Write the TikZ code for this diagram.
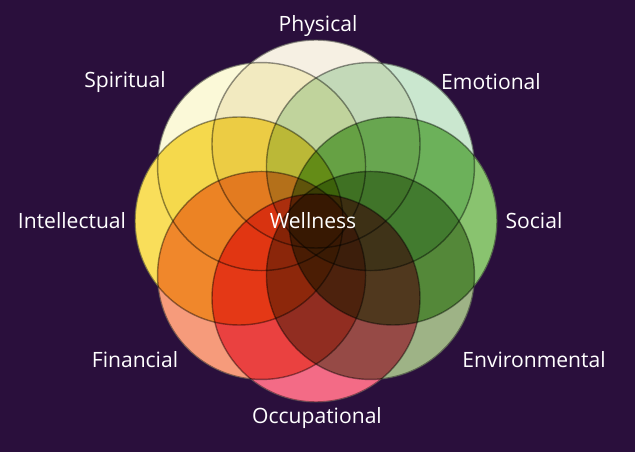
\documentclass[tikz,border=0pt]{standalone}
\usepackage{fontspec}
\setmainfont{Open Sans}
\definecolor{bgpurple}{HTML}{2A0F3C}
\definecolor{cPhys}{HTML}{F3ECDA}
\definecolor{cEmo}{HTML}{B9E0C0}
\definecolor{cSoc}{HTML}{62B040}
\definecolor{cEnv}{HTML}{7E9A5E}
\definecolor{cOcc}{HTML}{F03A5E}
\definecolor{cFin}{HTML}{F47A50}
\definecolor{cInt}{HTML}{F8D424}
\definecolor{cSpi}{HTML}{FAF7CC}
\tikzset{
  petal/.style={fill=#1, fill opacity=0.75, draw=black!70, draw opacity=0.6, line width=0.8pt, blend mode=multiply},
  lbl/.style={text=white, font=\fontsize{12}{14}\selectfont}
}
\begin{document}
\begin{tikzpicture}[x=0.02cm,y=-0.02cm]
\fill[bgpurple] (0,0) rectangle (635,452);
\useasboundingbox (0,0) rectangle (635,452);
% circles round the centre, on a white base
\begin{scope}[transparency group]
\foreach \ang in {90,45,135,180,0,-45,-135,-90}
  \fill[white] ({316+77*cos(\ang)},{221-77*sin(\ang)}) circle (104);
\foreach \ang/\col in {90/cPhys,45/cEmo,135/cSpi,180/cInt,0/cSoc,-45/cEnv,-135/cFin,-90/cOcc}
  \draw[petal=\col] ({316+77*cos(\ang)},{221-77*sin(\ang)}) circle (104);
\end{scope}
\node[lbl] (phys) at (318,26) {Physical};
\node[lbl] (spi) at (125,82) {Spiritual};
\node[lbl] (emo) at (491,82) {Emotional};
\node[lbl] (int) at (72,221) {Intellectual};
\node[lbl] (soc) at (534,221) {Social};
\node[lbl] (fin) at (135,360) {Financial};
\node[lbl] (env) at (534,360) {Environmental};
\node[lbl] (occ) at (317,418) {Occupational};
\node[lbl] (well) at (313,221) {Wellness};
\end{tikzpicture}
\end{document}
